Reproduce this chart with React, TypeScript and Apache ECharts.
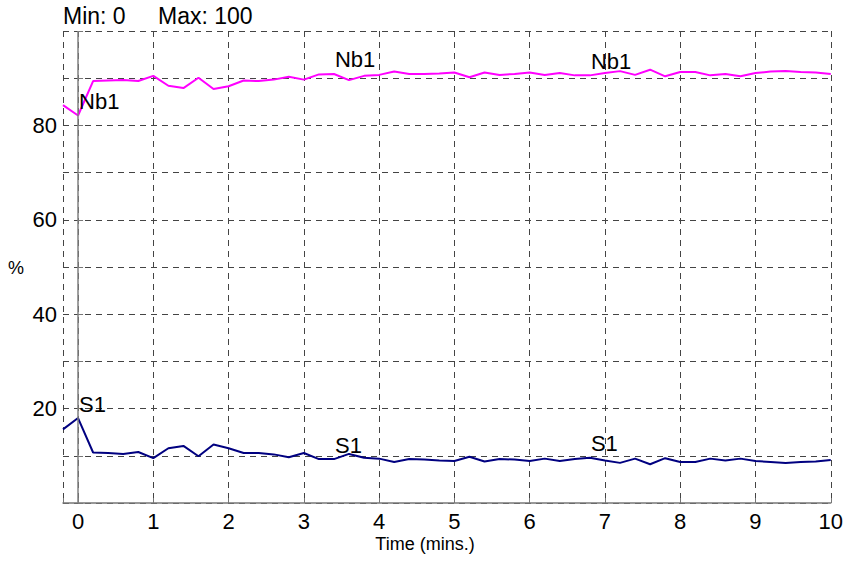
import React, { useEffect, useRef } from 'react';
import * as echarts from 'echarts';

const timeMins = [
  -0.2, 0, 0.2, 0.4, 0.6, 0.8, 1.0, 1.2, 1.4, 1.6, 1.8, 2.0, 2.2, 2.4, 2.6, 2.8, 3.0, 3.2,
  3.4, 3.6, 3.8, 4.0, 4.2, 4.4, 4.6, 4.8, 5.0, 5.2, 5.4, 5.6, 5.8, 6.0, 6.2, 6.4, 6.6, 6.8,
  7.0, 7.2, 7.4, 7.6, 7.8, 8.0, 8.2, 8.4, 8.6, 8.8, 9.0, 9.2, 9.4, 9.6, 9.8, 10.0,
];

const nb1 = [
  84.3, 82.1, 89.4, 89.5, 89.6, 89.4, 90.5, 88.4, 87.9, 90.1, 87.7, 88.3, 89.5, 89.4, 89.7, 90.3, 89.7, 90.8,
  90.9, 89.6, 90.5, 90.7, 91.4, 90.9, 90.9, 91.0, 91.2, 90.2, 91.2, 90.7, 90.9, 91.2, 90.7, 91.1, 90.6, 90.6,
  91.1, 91.5, 90.7, 91.8, 90.4, 91.3, 91.3, 90.6, 90.9, 90.4, 91.1, 91.4, 91.5, 91.3, 91.2, 90.9,
];

const s1 = [
  15.6, 18.0, 10.7, 10.6, 10.4, 10.8, 9.5, 11.6, 12.1, 9.9, 12.4, 11.6, 10.6, 10.6, 10.3, 9.7, 10.6, 9.3,
  9.3, 10.4, 9.6, 9.4, 8.7, 9.3, 9.2, 9.0, 8.9, 9.8, 8.8, 9.3, 9.2, 8.9, 9.4, 8.9, 9.3, 9.6,
  9.0, 8.5, 9.4, 8.2, 9.5, 8.7, 8.7, 9.4, 9.0, 9.4, 8.9, 8.7, 8.5, 8.7, 8.8, 9.1,
];

const seriesNames = ['Nb1', 'S1'];
const labelIdx = [1, 18, 35];
const xTickLabels = [0, 1, 2, 3, 4, 5, 6, 7, 8, 9, 10];
const yTickLabels = [20, 40, 60, 80];
const headerTexts = ['Min: 0', 'Max: 100'];
const xTitle = 'Time (mins.)';
const yTitle = '%';

const FONT = '"Liberation Sans", Arial, Helvetica, sans-serif';

export default function App() {
  const ref = useRef<HTMLDivElement>(null);

  useEffect(() => {
    document.body.style.margin = '0';
    const chart = echarts.init(ref.current!, null, { renderer: 'svg' });

    const gridLine = { show: true, lineStyle: { color: '#444', type: [6, 5], width: 1 } };

    const baseGraphic: any[] = [
      { id: 'hdr0', type: 'text', left: 63, top: 4, style: { text: headerTexts[0], font: `23px ${FONT}`, fill: '#000' } },
      { id: 'hdr1', type: 'text', left: 158, top: 4, style: { text: headerTexts[1], font: `23px ${FONT}`, fill: '#000' } },
      { id: 'xt', type: 'text', x: 425, y: 535, style: { text: xTitle, font: `18px ${FONT}`, fill: '#000', textAlign: 'center' } },
      { id: 'yt', type: 'text', x: 8, y: 259, style: { text: yTitle, font: `18px ${FONT}`, fill: '#000' } },
    ];

    chart.setOption({
      animation: false,
      backgroundColor: '#fff',
      grid: { left: 63, right: 15, top: 31, bottom: 58 },
      xAxis: {
        type: 'value',
        min: -0.2,
        max: 10,
        splitNumber: 10,
        axisLine: { show: true, onZero: false, lineStyle: { color: '#777', width: 1.5 } },
        axisTick: { show: true, inside: true, length: 5, lineStyle: { color: '#777' } },
        axisLabel: {
          fontSize: 22,
          fontFamily: FONT,
          color: '#000',
          margin: 7,
          showMinLabel: true,
          showMaxLabel: true,
          formatter: (v: number) => (xTickLabels.includes(Math.round(v * 100) / 100) ? String(Math.round(v)) : ''),
        },
        splitLine: gridLine,
      },
      yAxis: {
        type: 'value',
        min: 0,
        max: 100,
        interval: 10,
        axisLine: { show: false },
        axisTick: { show: true, inside: true, length: 5, lineStyle: { color: '#777' } },
        axisLabel: {
          fontSize: 22,
          fontFamily: FONT,
          color: '#000',
          margin: 6,
          formatter: (v: number) => (yTickLabels.includes(v) ? String(v) : ''),
        },
        splitLine: gridLine,
      },
      graphic: baseGraphic,
      series: [
        {
          type: 'line',
          name: seriesNames[0],
          data: timeMins.map((t, i) => [t, nb1[i]]),
          symbol: 'none',
          lineStyle: { color: '#ff00ff', width: 2 },
          itemStyle: { color: '#ff00ff' },
          z: 3,
          markLine: {
            silent: true,
            symbol: 'none',
            label: { show: false },
            lineStyle: { color: '#808080', type: 'solid', width: 1.5 },
            data: [{ xAxis: 0 }],
          },
        },
        {
          type: 'line',
          name: seriesNames[1],
          data: timeMins.map((t, i) => [t, s1[i]]),
          symbol: 'none',
          lineStyle: { color: '#000080', width: 2 },
          itemStyle: { color: '#000080' },
          z: 3,
        },
      ],
    });

    const labelTexts: any[] = [];
    [nb1, s1].forEach((values, si) => {
      labelIdx.forEach((i, k) => {
        const p = chart.convertToPixel({ gridIndex: 0 }, [timeMins[i], values[i]]) as number[];
        labelTexts.push({
          id: `lbl-${si}-${k}`,
          type: 'text',
          x: p[0] + 1,
          y: p[1] - 3,
          z: 10,
          style: {
            text: seriesNames[si],
            font: `22px ${FONT}`,
            fill: '#000',
            textAlign: 'left',
            textVerticalAlign: 'bottom',
          },
        });
      });
    });
    chart.setOption({ graphic: [...baseGraphic, ...labelTexts] });

    return () => chart.dispose();
  }, []);

  return <div ref={ref} style={{ width: 846, height: 561 }} />;
}
